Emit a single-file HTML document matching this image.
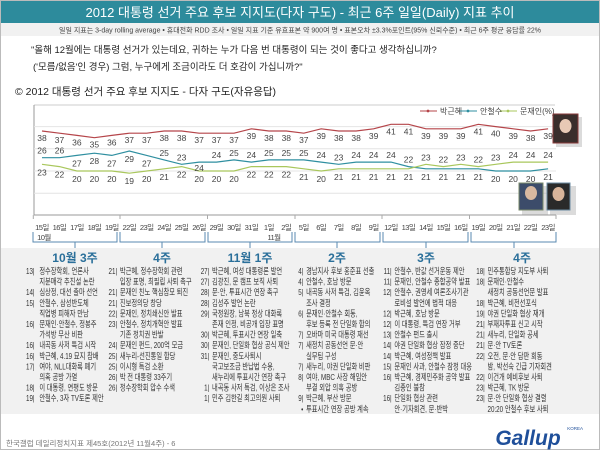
<!DOCTYPE html>
<html><head><meta charset="utf-8"><style>
body{margin:0;width:600px;height:450px;overflow:hidden;background:#fff;font-family:"Liberation Sans","Noto Sans CJK KR",sans-serif}
svg{display:block}
text{font-family:"Liberation Sans","Noto Sans CJK KR",sans-serif}
.n{font-size:8.5px;fill:#444;text-anchor:middle}
.p{font-size:9.2px;fill:#333}
.r{text-anchor:end}
.h{font-size:12px;fill:#2a6f9a;text-anchor:middle;font-weight:bold}
.d{font-size:7.6px;fill:#444;text-anchor:middle;letter-spacing:-0.6px}
</style></head><body>
<svg width="600" height="450" viewBox="0 0 600 450">
<rect x="0.5" y="0.5" width="599" height="449" fill="#fff" stroke="#bbb"/>
<rect x="1" y="1" width="598" height="22" fill="#2d8b9c"/>
<text x="300" y="17" font-size="13" fill="#fff" text-anchor="middle">2012 대통령 선거 주요 후보 지지도(다자 구도) - 최근 6주 일일(Daily) 지표 추이</text>
<rect x="1" y="23" width="598" height="13" fill="#f1f1f1"/>
<text x="300" y="32.5" font-size="7" fill="#444" text-anchor="middle">일일 지표는 3-day rolling average • 휴대전화 RDD 조사 • 일일 지표 기준 유효표본 약 900여 명 • 표본오차 ±3.3%포인트(95% 신뢰수준) • 최근 6주 평균 응답률 22%</text>
<text x="31" y="53" font-size="9.5" fill="#222">"올해 12월에는 대통령 선거가 있는데요, 귀하는 누가 다음 번 대통령이 되는 것이 좋다고 생각하십니까?</text>
<text x="33" y="70" font-size="9.5" fill="#222">('모름/없음'인 경우) 그럼, 누구에게 조금이라도 더 호감이 가십니까?"</text>
<text x="15" y="95" font-size="10.5" fill="#222">© 2012 대통령 선거 주요 후보 지지도 - 다자 구도(자유응답)</text>
<line x1="34" y1="105" x2="555" y2="105" stroke="#ccc"/>
<line x1="34" y1="105" x2="34" y2="215" stroke="#999"/>
<line x1="34" y1="215" x2="556" y2="215" stroke="#999"/>
<g stroke="#e4e4e4"><line x1="34" y1="126.6" x2="556" y2="126.6"/><line x1="34" y1="148.8" x2="556" y2="148.8"/><line x1="34" y1="171" x2="556" y2="171"/><line x1="34" y1="193.2" x2="556" y2="193.2"/></g>
<g font-size="8" fill="#444">
<line x1="420" y1="111" x2="437" y2="111" stroke="#b5454a"/><circle cx="428" cy="111" r="1.4" fill="#b5454a"/><text x="440" y="114">박근혜</text>
<line x1="460" y1="111" x2="477" y2="111" stroke="#2f8fa0"/><circle cx="468" cy="111" r="1.4" fill="#2f8fa0"/><text x="480" y="114">안철수</text>
<line x1="500" y1="111" x2="517" y2="111" stroke="#a9c75c"/><circle cx="508" cy="111" r="1.4" fill="#a9c75c"/><text x="520" y="114">문재인(%)</text>
</g>
<polyline fill="none" stroke="#b5454a" stroke-width="1.2" points="42,131 59.5,133.2 76.9,135.4 94.4,137.7 111.8,135.4 129.3,133.2 146.7,133.2 164.2,131 181.6,131 199.1,133.2 216.5,133.2 234,133.2 251.4,128.8 268.9,131 286.3,131 303.8,133.2 321.2,128.8 338.7,131 356.1,131 373.6,128.8 391,124.3 408.5,124.3 425.9,128.8 443.4,128.8 460.8,128.8 478.3,124.3 495.7,126.6 513.2,128.8 530.6,131 548.1,128.8"/>
<polyline fill="none" stroke="#2f8fa0" stroke-width="1.2" points="42,157.7 59.5,157.7 76.9,155.4 94.4,153.2 111.8,155.4 129.3,151 146.7,155.4 164.2,159.9 181.6,164.3 199.1,162.1 216.5,162.1 234,159.9 251.4,162.1 268.9,159.9 286.3,159.9 303.8,159.9 321.2,162.1 338.7,164.3 356.1,162.1 373.6,162.1 391,162.1 408.5,166.6 425.9,168.8 443.4,168.8 460.8,168.8 478.3,168.8 495.7,171 513.2,171 530.6,171 548.1,168.8"/>
<polyline fill="none" stroke="#a9c75c" stroke-width="1.2" points="42,164.3 59.5,166.6 76.9,171 94.4,171 111.8,171 129.3,173.2 146.7,171 164.2,168.8 181.6,166.6 199.1,171 216.5,171 234,171 251.4,166.6 268.9,166.6 286.3,166.6 303.8,168.8 321.2,171 338.7,168.8 356.1,168.8 373.6,168.8 391,168.8 408.5,168.8 425.9,164.3 443.4,166.6 460.8,164.3 478.3,166.6 495.7,164.3 513.2,162.1 530.6,162.1 548.1,162.1"/>
<g class="n">
<text x="42" y="141">38</text><text x="59.5" y="143.2">37</text><text x="76.9" y="145.4">36</text><text x="94.4" y="147.7">35</text><text x="111.8" y="145.4">36</text><text x="129.3" y="143.2">37</text><text x="146.7" y="143.2">37</text><text x="164.2" y="141">38</text><text x="181.6" y="141">38</text><text x="199.1" y="143.2">37</text><text x="216.5" y="143.2">37</text><text x="234" y="143.2">37</text><text x="251.4" y="138.8">39</text><text x="268.9" y="141">38</text><text x="286.3" y="141">38</text><text x="303.8" y="143.2">37</text><text x="321.2" y="138.8">39</text><text x="338.7" y="141">38</text><text x="356.1" y="141">38</text><text x="373.6" y="138.8">39</text><text x="391" y="134.3">41</text><text x="408.5" y="134.3">41</text><text x="425.9" y="138.8">39</text><text x="443.4" y="138.8">39</text><text x="460.8" y="138.8">39</text><text x="478.3" y="134.3">41</text><text x="495.7" y="136.6">40</text><text x="513.2" y="138.8">39</text><text x="530.6" y="141">38</text><text x="548.1" y="138.8">39</text>
<text x="42" y="153.7">26</text><text x="59.5" y="153.7">26</text><text x="76.9" y="166.4">27</text><text x="94.4" y="164.2">28</text><text x="111.8" y="166.4">27</text><text x="129.3" y="162">29</text><text x="146.7" y="166.4">27</text><text x="164.2" y="155.9">25</text><text x="181.6" y="160.3">23</text><text x="199.1" y="171">24</text><text x="216.5" y="158.1">24</text><text x="234" y="155.9">25</text><text x="251.4" y="158.1">24</text><text x="268.9" y="155.9">25</text><text x="286.3" y="155.9">25</text><text x="303.8" y="155.9">25</text><text x="321.2" y="158.1">24</text><text x="338.7" y="160.3">23</text><text x="356.1" y="158.1">24</text><text x="373.6" y="158.1">24</text><text x="391" y="158.1">24</text><text x="408.5" y="162.6">22</text><text x="425.9" y="179.8">21</text><text x="443.4" y="179.8">21</text><text x="460.8" y="179.8">21</text><text x="478.3" y="179.8">21</text><text x="495.7" y="182">20</text><text x="513.2" y="182">20</text><text x="530.6" y="182">20</text><text x="548.1" y="179.8">21</text>
<text x="42" y="175.3">23</text><text x="59.5" y="177.6">22</text><text x="76.9" y="182">20</text><text x="94.4" y="182">20</text><text x="111.8" y="182">20</text><text x="129.3" y="184.2">19</text><text x="146.7" y="182">20</text><text x="164.2" y="179.8">21</text><text x="181.6" y="177.6">22</text><text x="199.1" y="182">20</text><text x="216.5" y="182">20</text><text x="234" y="182">20</text><text x="251.4" y="177.6">22</text><text x="268.9" y="177.6">22</text><text x="286.3" y="177.6">22</text><text x="303.8" y="179.8">21</text><text x="321.2" y="182">20</text><text x="338.7" y="179.8">21</text><text x="356.1" y="179.8">21</text><text x="373.6" y="179.8">21</text><text x="391" y="179.8">21</text><text x="408.5" y="179.8">21</text><text x="425.9" y="160.3">23</text><text x="443.4" y="162.6">22</text><text x="460.8" y="160.3">23</text><text x="478.3" y="162.6">22</text><text x="495.7" y="160.3">23</text><text x="513.2" y="158.1">24</text><text x="530.6" y="158.1">24</text><text x="548.1" y="158.1">24</text>
</g>
<rect x="556" y="117" width="26" height="30" fill="#999" opacity=".35"/>
<rect x="553" y="114" width="25" height="29" fill="#3a2e2c" stroke="#8a3a3a"/>
<ellipse cx="565.5" cy="126" rx="6" ry="7" fill="#e8c9b5"/>
<rect x="522" y="186" width="26" height="29" fill="#999" opacity=".35"/>
<rect x="519" y="183" width="24" height="27" fill="#3c4c6a" stroke="#7a8a6a"/>
<ellipse cx="531" cy="193" rx="6" ry="7" fill="#d8b8a0"/>
<rect x="550" y="186" width="26" height="29" fill="#999" opacity=".35"/>
<rect x="547" y="183" width="23" height="27" fill="#2a2a2a" stroke="#6a8aa0"/>
<ellipse cx="558.5" cy="194" rx="6" ry="7" fill="#d8b49a"/>
<g stroke="#aaa"><line x1="33.3" y1="215" x2="33.3" y2="219"/><line x1="120" y1="215" x2="120" y2="219"/><line x1="207.5" y1="215" x2="207.5" y2="219"/><line x1="295" y1="215" x2="295" y2="219"/><line x1="382" y1="215" x2="382" y2="219"/><line x1="469.5" y1="215" x2="469.5" y2="219"/><line x1="556" y1="215" x2="556" y2="219"/></g>
<g class="d">
<text x="42" y="230">15일</text><text x="59.5" y="230">16일</text><text x="76.9" y="230">17일</text><text x="94.4" y="230">18일</text><text x="111.8" y="230">19일</text><text x="129.3" y="230">22일</text><text x="146.7" y="230">23일</text><text x="164.2" y="230">24일</text><text x="181.6" y="230">25일</text><text x="199.1" y="230">26일</text><text x="216.5" y="230">29일</text><text x="234" y="230">30일</text><text x="251.4" y="230">31일</text><text x="268.9" y="230">1일</text><text x="286.3" y="230">2일</text><text x="303.8" y="230">5일</text><text x="321.2" y="230">6일</text><text x="338.7" y="230">7일</text><text x="356.1" y="230">8일</text><text x="373.6" y="230">9일</text><text x="391" y="230">12일</text><text x="408.5" y="230">13일</text><text x="425.9" y="230">14일</text><text x="443.4" y="230">15일</text><text x="460.8" y="230">16일</text><text x="478.3" y="230">19일</text><text x="495.7" y="230">20일</text><text x="513.2" y="230">21일</text><text x="530.6" y="230">22일</text><text x="548.1" y="230">23일</text>
<text x="44" y="240">10월</text><text x="274" y="240">11월</text>
</g>
<g fill="none" stroke="#5a8ab0">
<path d="M33,232V242H117V232M75,242V248"/>
<path d="M120,232V242H205V232M162,242V248"/>
<path d="M208,232V242H292V232M250,242V248"/>
<path d="M295,232V242H380V232M337,242V248"/>
<path d="M383,232V242H468V232M426,242V248"/>
<path d="M471,232V242H556V232M514,242V248"/>
</g>
<rect x="1" y="248" width="598" height="166" fill="#f1f1f1"/>
<text class="h" x="75" y="262">10월 3주</text><text class="h" x="162" y="262">4주</text><text class="h" x="250" y="262">11월 1주</text><text class="h" x="337" y="262">2주</text><text class="h" x="426" y="262">3주</text><text class="h" x="522" y="262">4주</text>
<g class="p" transform="matrix(0.68,0,0,0.938,10.08,17)">
<text x="36" y="274" class="r">13|</text><text x="43" y="274">정수장학회, 언론사</text>
<text x="43" y="285.3">지분매각 추진설 논란</text>
<text x="36" y="296.6" class="r">14|</text><text x="43" y="296.6">심상정, 대선 출마 선언</text>
<text x="36" y="307.9" class="r">15|</text><text x="43" y="307.9">안철수, 삼성반도체</text>
<text x="43" y="319.2">직업병 피해자 만남</text>
<text x="36" y="330.5" class="r">16|</text><text x="43" y="330.5">문재인·안철수, 정봉주</text>
<text x="43" y="341.8">가석방 무산 비판</text>
<text x="36" y="353.1" class="r">16|</text><text x="43" y="353.1">내곡동 사저 특검 시작</text>
<text x="36" y="364.4" class="r">16|</text><text x="43" y="364.4">박근혜, 4.19 묘지 참배</text>
<text x="36" y="375.7" class="r">17|</text><text x="43" y="375.7">여야, NLL대화록 폐기</text>
<text x="43" y="387">의혹 공방 가열</text>
<text x="36" y="398.3" class="r">18|</text><text x="43" y="398.3">이 대통령, 연평도 방문</text>
<text x="36" y="409.6" class="r">19|</text><text x="43" y="409.6">안철수, 3자 TV토론 제안</text>
</g>
<g class="p" transform="matrix(0.68,0,0,0.938,34.16,17)">
<text x="122" y="274" class="r">21|</text><text x="126" y="274">박근혜, 정수장학회 관련</text>
<text x="126" y="285.3">입장 표명, 최필립 사퇴 촉구</text>
<text x="122" y="296.6" class="r">21|</text><text x="126" y="296.6">문재인 친노 핵심참모 퇴진</text>
<text x="122" y="307.9" class="r">21|</text><text x="126" y="307.9">진보정의당 창당</text>
<text x="122" y="319.2" class="r">22|</text><text x="126" y="319.2">문재인, 정치쇄신안 발표</text>
<text x="122" y="330.5" class="r">23|</text><text x="126" y="330.5">안철수, 정치개혁안 발표</text>
<text x="126" y="341.8">기존 정치권 반발</text>
<text x="122" y="353.1" class="r">24|</text><text x="126" y="353.1">문재인 펀드, 200억 모금</text>
<text x="122" y="364.4" class="r">25|</text><text x="126" y="364.4">새누리-선진통일 합당</text>
<text x="122" y="375.7" class="r">25|</text><text x="126" y="375.7">이시형 특검 소환</text>
<text x="122" y="387" class="r">26|</text><text x="126" y="387">박 전 대통령 33주기</text>
<text x="122" y="398.3" class="r">26|</text><text x="126" y="398.3">정수장학회 압수 수색</text>
</g>
<g class="p" transform="matrix(0.68,0,0,0.938,61.04,17)">
<text x="218" y="274" class="r">27|</text><text x="222" y="274">박근혜, 여성 대통령론 발언</text>
<text x="218" y="285.3" class="r">27|</text><text x="222" y="285.3">김광진, 문 캠프 보직 사퇴</text>
<text x="218" y="296.6" class="r">28|</text><text x="222" y="296.6">문·안, 투표시간 연장 촉구</text>
<text x="218" y="307.9" class="r">28|</text><text x="222" y="307.9">김성주 발언 논란</text>
<text x="218" y="319.2" class="r">29|</text><text x="222" y="319.2">국정원장, 남북 정상 대화록</text>
<text x="222" y="330.5">존재 인정, 비공개 입장 표명</text>
<text x="218" y="341.8" class="r">30|</text><text x="222" y="341.8">박근혜, 투표시간 연장 일축</text>
<text x="218" y="353.1" class="r">30|</text><text x="222" y="353.1">문재인, 단일화 협상 공식 제안</text>
<text x="218" y="364.4" class="r">31|</text><text x="222" y="364.4">문재인, 중도사퇴시</text>
<text x="222" y="375.7">국고보조금 반납법 수용,</text>
<text x="222" y="387">새누리에 투표시간 연장 촉구</text>
<text x="218" y="398.3" class="r">1|</text><text x="222" y="398.3">내곡동 사저 특검, 이상은 조사</text>
<text x="218" y="409.6" class="r">1|</text><text x="222" y="409.6">민주 김한길 최고의원 사퇴</text>
</g>
<g class="p" transform="matrix(0.68,0,0,0.938,88.48,17)">
<text x="316" y="274" class="r">4|</text><text x="320" y="274">경남지사 후보 홍준표 선출</text>
<text x="316" y="285.3" class="r">4|</text><text x="320" y="285.3">안철수, 호남 방문</text>
<text x="316" y="296.6" class="r">5|</text><text x="320" y="296.6">내곡동 사저 특검, 김윤옥</text>
<text x="320" y="307.9">조사 결정</text>
<text x="316" y="319.2" class="r">6|</text><text x="320" y="319.2">문재인·안철수 회동,</text>
<text x="320" y="330.5">후보 등록 전 단일화 합의</text>
<text x="316" y="341.8" class="r">7|</text><text x="320" y="341.8">오바마 미국 대통령 재선</text>
<text x="316" y="353.1" class="r">7|</text><text x="320" y="353.1">새정치 공동선언 문·안</text>
<text x="320" y="364.4">실무팀 구성</text>
<text x="316" y="375.7" class="r">7|</text><text x="320" y="375.7">새누리, 야권 단일화 비판</text>
<text x="316" y="387" class="r">8|</text><text x="320" y="387">여야, MBC 사장 해임안</text>
<text x="320" y="398.3">부결 외압 의혹 공방</text>
<text x="316" y="409.6" class="r">9|</text><text x="320" y="409.6">박근혜, 부산 방문</text>
<text x="316" y="420.9" class="r">•</text><text x="320" y="420.9">투표시간 연장 공방 계속</text>
</g>
<g class="p" transform="matrix(0.68,0,0,0.938,114.24,17)">
<text x="408" y="274" class="r">11|</text><text x="412" y="274">안철수, 반값 선거운동 제안</text>
<text x="408" y="285.3" class="r">11|</text><text x="412" y="285.3">문재인, 안철수 종합공약 발표</text>
<text x="408" y="296.6" class="r">12|</text><text x="412" y="296.6">안철수, 권영세 여론조사기관</text>
<text x="412" y="307.9">로비설 발언에 법적 대응</text>
<text x="408" y="319.2" class="r">12|</text><text x="412" y="319.2">박근혜, 호남 방문</text>
<text x="408" y="330.5" class="r">12|</text><text x="412" y="330.5">이 대통령, 특검 연장 거부</text>
<text x="408" y="341.8" class="r">13|</text><text x="412" y="341.8">안철수 펀드 출시</text>
<text x="408" y="353.1" class="r">14|</text><text x="412" y="353.1">야권 단일화 협상 잠정 중단</text>
<text x="408" y="364.4" class="r">14|</text><text x="412" y="364.4">박근혜, 여성정책 발표</text>
<text x="408" y="375.7" class="r">15|</text><text x="412" y="375.7">문재인 사과, 안철수 잠정 대응</text>
<text x="408" y="387" class="r">16|</text><text x="412" y="387">박근혜, 경제민주화 공약 발표</text>
<text x="412" y="398.3">김종인 불참</text>
<text x="408" y="409.6" class="r">16|</text><text x="412" y="409.6">단일화 협상 관련</text>
<text x="412" y="420.9">안·기자회견, 문·반박</text>
</g>
<g class="p" transform="matrix(0.68,0,0,0.938,141.4,17)">
<text x="505" y="274" class="r">18|</text><text x="509" y="274">민주통합당 지도부 사퇴</text>
<text x="505" y="285.3" class="r">18|</text><text x="509" y="285.3">문재인·안철수</text>
<text x="509" y="296.6">새정치 공동선언문 발표</text>
<text x="505" y="307.9" class="r">18|</text><text x="509" y="307.9">박근혜, 비전선포식</text>
<text x="505" y="319.2" class="r">19|</text><text x="509" y="319.2">야권 단일화 협상 재개</text>
<text x="505" y="330.5" class="r">21|</text><text x="509" y="330.5">부재자투표 신고 시작</text>
<text x="505" y="341.8" class="r">21|</text><text x="509" y="341.8">새누리, 단일화 공세</text>
<text x="505" y="353.1" class="r">21|</text><text x="509" y="353.1">문·안 TV토론</text>
<text x="505" y="364.4" class="r">22|</text><text x="509" y="364.4">오전, 문·안 담판 회동</text>
<text x="509" y="375.7">밤, 박선숙 긴급 기자회견</text>
<text x="505" y="387" class="r">22|</text><text x="509" y="387">이건개 예비후보 사퇴</text>
<text x="505" y="398.3" class="r">23|</text><text x="509" y="398.3">박근혜, TK 방문</text>
<text x="505" y="409.6" class="r">23|</text><text x="509" y="409.6">문·안 단일화 협상 결렬</text>
<text x="509" y="420.9">20:20 안철수 후보 사퇴</text>
</g>
<text x="6" y="446" font-size="7.5" fill="#777">한국갤럽 데일리정치지표 제45호(2012년 11월4주) - 6</text>
<text x="528" y="445" font-size="21" font-weight="bold" fill="#1f4f9a" font-style="italic" text-anchor="middle">Gallup</text>
<text x="583" y="430" font-size="4.5" fill="#1f4f9a" text-anchor="end">KOREA</text>
</svg>
</body></html>
